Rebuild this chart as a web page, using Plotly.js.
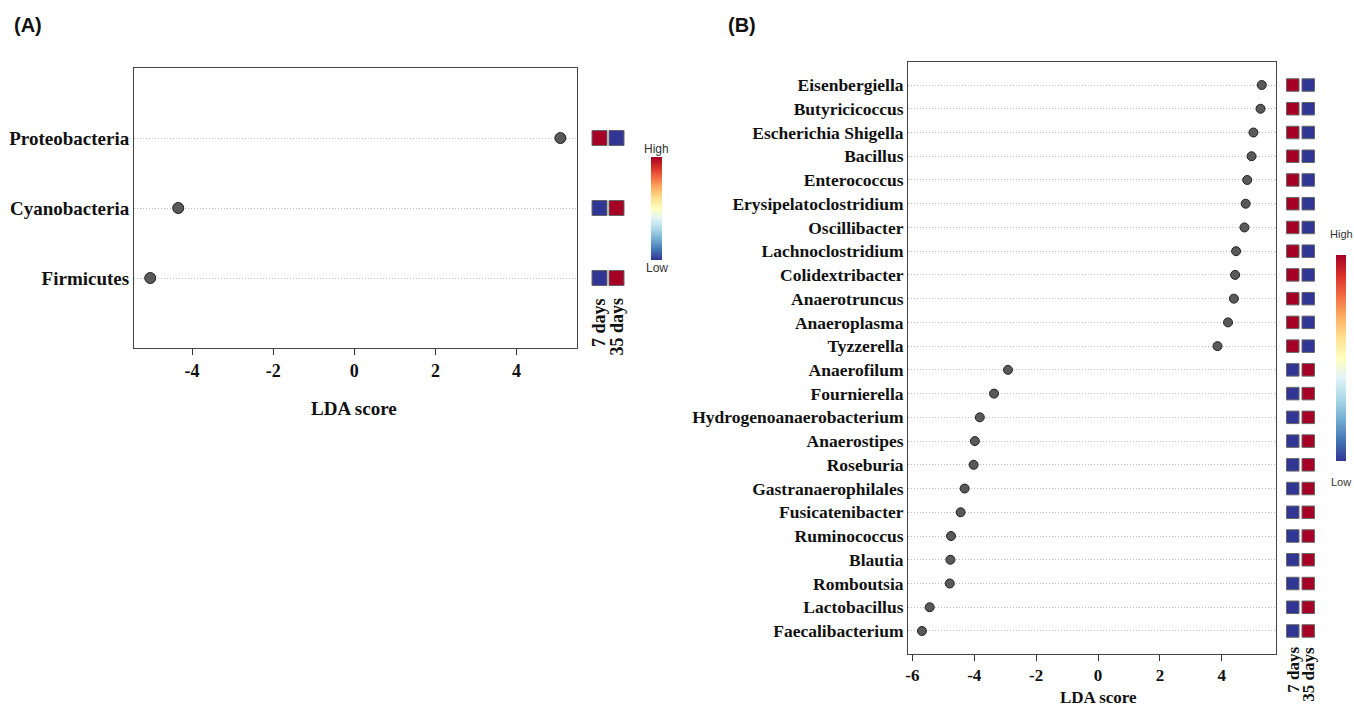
<!DOCTYPE html>
<html>
<head>
<meta charset="utf-8">
<script src="https://cdn.plot.ly/plotly-3.0.1.min.js"></script>
<style>html,body{margin:0;padding:0;background:#fff;}#chart{width:1354px;height:708px;}</style>
</head>
<body>
<div id="chart"></div>
<script>
// ---------- Data ----------
const groups = ['7 days', '35 days'];

// Panel A (phylum level), top to bottom
const A_taxa = ['Proteobacteria', 'Cyanobacteria', 'Firmicutes'];
const A_lda = [5.08, -4.34, -5.03];
const A_day7 = [1, 0, 0];   // 1 = high, 0 = low
const A_day35 = [0, 1, 1];

// Panel B (genus level), top to bottom
const B_taxa = ['Eisenbergiella', 'Butyricicoccus', 'Escherichia Shigella', 'Bacillus', 'Enterococcus',
  'Erysipelatoclostridium', 'Oscillibacter', 'Lachnoclostridium', 'Colidextribacter', 'Anaerotruncus',
  'Anaeroplasma', 'Tyzzerella', 'Anaerofilum', 'Fournierella', 'Hydrogenoanaerobacterium', 'Anaerostipes',
  'Roseburia', 'Gastranaerophilales', 'Fusicatenibacter', 'Ruminococcus', 'Blautia', 'Romboutsia',
  'Lactobacillus', 'Faecalibacterium'];
const B_lda = [5.29, 5.25, 5.02, 4.96, 4.82, 4.77, 4.73, 4.46, 4.43, 4.39, 4.20, 3.86,
  -2.91, -3.36, -3.82, -3.98, -4.02, -4.31, -4.44, -4.75, -4.77, -4.79, -5.44, -5.69];
const B_day7 = [1,1,1,1,1,1,1,1,1,1,1,1, 0,0,0,0,0,0,0,0,0,0,0,0];
const B_day35 = [0,0,0,0,0,0,0,0,0,0,0,0, 1,1,1,1,1,1,1,1,1,1,1,1];

const A_ticks = [-4, -2, 0, 2, 4];
const B_ticks = [-6, -4, -2, 0, 2, 4];

// ---------- Styling helpers ----------
const W = 1354, H = 708;
const px = v => v / W;
const py = v => 1 - v / H;
const serif = 'Liberation Serif, Times New Roman, serif';
const sans = 'Liberation Sans, Arial, sans-serif';
const rdylbu = [
  [0.0, '#313695'], [0.1, '#4575b4'], [0.2, '#74add1'], [0.3, '#abd9e9'], [0.4, '#e0f3f8'],
  [0.5, '#ffffbf'], [0.6, '#fee090'], [0.7, '#fdae61'], [0.8, '#f46d43'], [0.9, '#d73027'], [1.0, '#a50026']
];

function squares(taxa, d7, d35, xa, ya, size, cb) {
  return {
    type: 'scatter', mode: 'markers', xaxis: xa, yaxis: ya,
    x: taxa.map(() => 0).concat(taxa.map(() => 1)),
    y: taxa.concat(taxa),
    marker: {
      symbol: 'square', size: size, color: d7.concat(d35), cmin: 0, cmax: 1,
      colorscale: rdylbu, line: { color: '#666', width: 1 },
      showscale: true,
      colorbar: Object.assign({
        thicknessmode: 'pixels', lenmode: 'pixels', xanchor: 'left', yanchor: 'top',
        showticklabels: false, ticks: '', outlinewidth: 0, borderwidth: 0, xpad: 0, ypad: 0
      }, cb)
    },
    hoverinfo: 'skip'
  };
}

const traces = [
  {
    type: 'scatter', mode: 'markers', xaxis: 'x', yaxis: 'y',
    x: A_lda, y: A_taxa,
    marker: { size: 11, color: '#595959', line: { color: '#222', width: 1 } }
  },
  {
    type: 'scatter', mode: 'markers', xaxis: 'x2', yaxis: 'y2',
    x: B_lda, y: B_taxa,
    marker: { size: 9, color: '#595959', line: { color: '#222', width: 1 } }
  },
  squares(A_taxa, A_day7, A_day35, 'x3', 'y3', 15, { x: px(651), y: py(157), len: 103, thickness: 11 }),
  squares(B_taxa, B_day7, B_day35, 'x4', 'y4', 12.5, { x: px(1336), y: py(255), len: 206, thickness: 10 })
];

const yA = [py(348), py(68)];
const yB = [py(654), py(62)];
const rangeA = [A_taxa.length, -1];
const rangeB = [B_taxa.length - 0.03, -0.97];

function mainX(domain, range, ticks, fs, anchor) {
  return {
    domain: domain, range: range, anchor: anchor, tickmode: 'array', tickvals: ticks,
    ticktext: ticks.map(String), ticks: 'outside', ticklen: 6, tickcolor: '#333', tickwidth: 1,
    showline: true, mirror: true, linecolor: '#444', linewidth: 1,
    showgrid: false, zeroline: false,
    tickfont: { family: serif, size: fs, color: '#111', weight: 'bold' }
  };
}
function mainY(domain, cats, range, fs, anchor) {
  return {
    domain: domain, anchor: anchor, type: 'category', categoryorder: 'array', categoryarray: cats,
    range: range, ticks: '', showline: true, mirror: true, linecolor: '#444', linewidth: 1,
    showgrid: true, griddash: '1px,2px', gridcolor: '#bdbdbd', gridwidth: 1, zeroline: false,
    tickfont: { family: serif, size: fs, color: '#111', weight: 'bold' }
  };
}
function hidX(domain, anchor) {
  return { domain: domain, anchor: anchor, range: [-0.5, 1.5], visible: false, fixedrange: true };
}
function hidY(domain, cats, range, anchor) {
  return { domain: domain, anchor: anchor, type: 'category', categoryorder: 'array', categoryarray: cats,
    range: range, visible: false, showgrid: false };
}

const ann = [];
function txt(o) { ann.push(Object.assign({ showarrow: false }, o)); }
txt({ text: '(A)', xref: 'paper', yref: 'paper', x: px(12), y: py(25), xanchor: 'left', yanchor: 'middle',
  font: { family: sans, size: 20, color: '#111', weight: 'bold' } });
txt({ text: '(B)', xref: 'paper', yref: 'paper', x: px(726), y: py(25), xanchor: 'left', yanchor: 'middle',
  font: { family: sans, size: 20, color: '#111', weight: 'bold' } });
txt({ text: 'LDA score', xref: 'x', yref: 'paper', x: 0, y: py(408), xanchor: 'center', yanchor: 'middle',
  font: { family: serif, size: 19, color: '#111', weight: 'bold' } });
txt({ text: 'LDA score', xref: 'x2', yref: 'paper', x: 0, y: py(697), xanchor: 'center', yanchor: 'middle',
  font: { family: serif, size: 17, color: '#111', weight: 'bold' } });
txt({ text: 'High', xref: 'paper', yref: 'paper', x: px(656.5), y: py(149), xanchor: 'center', yanchor: 'middle',
  font: { family: sans, size: 12, color: '#333' } });
txt({ text: 'Low', xref: 'paper', yref: 'paper', x: px(656.5), y: py(268), xanchor: 'center', yanchor: 'middle',
  font: { family: sans, size: 12, color: '#333' } });
txt({ text: 'High', xref: 'paper', yref: 'paper', x: px(1341), y: py(234), xanchor: 'center', yanchor: 'middle',
  font: { family: sans, size: 11, color: '#333' } });
txt({ text: 'Low', xref: 'paper', yref: 'paper', x: px(1341), y: py(482), xanchor: 'center', yanchor: 'middle',
  font: { family: sans, size: 11, color: '#333' } });
groups.forEach((g, i) => {
  txt({ text: g, xref: 'x3', yref: 'paper', x: i, y: py(296), xanchor: 'center', yanchor: 'top', textangle: -90,
    font: { family: serif, size: 18, color: '#111', weight: 'bold' } });
  txt({ text: g, xref: 'x4', yref: 'paper', x: i, y: py(645), xanchor: 'center', yanchor: 'top', textangle: -90,
    font: { family: serif, size: 17, color: '#111', weight: 'bold' } });
});

const layout = {
  width: W, height: H, margin: { l: 0, r: 0, t: 0, b: 0 },
  paper_bgcolor: '#fff', plot_bgcolor: '#fff', showlegend: false,
  xaxis: mainX([px(134), px(577)], [-5.43, 5.49], A_ticks, 18, 'y'),
  yaxis: mainY(yA, A_taxa, rangeA, 19, 'x'),
  xaxis2: mainX([px(908), px(1276)], [-6.14, 5.75], B_ticks, 17, 'y2'),
  yaxis2: mainY(yB, B_taxa, rangeB, 17.5, 'x2'),
  xaxis3: hidX([px(591), px(625)], 'y3'),
  yaxis3: hidY(yA, A_taxa, rangeA, 'x3'),
  xaxis4: hidX([px(1285), px(1316)], 'y4'),
  yaxis4: hidY(yB, B_taxa, rangeB, 'x4'),
  annotations: ann
};

Plotly.newPlot('chart', traces, layout, { displayModeBar: false, staticPlot: true });
</script>
</body>
</html>
